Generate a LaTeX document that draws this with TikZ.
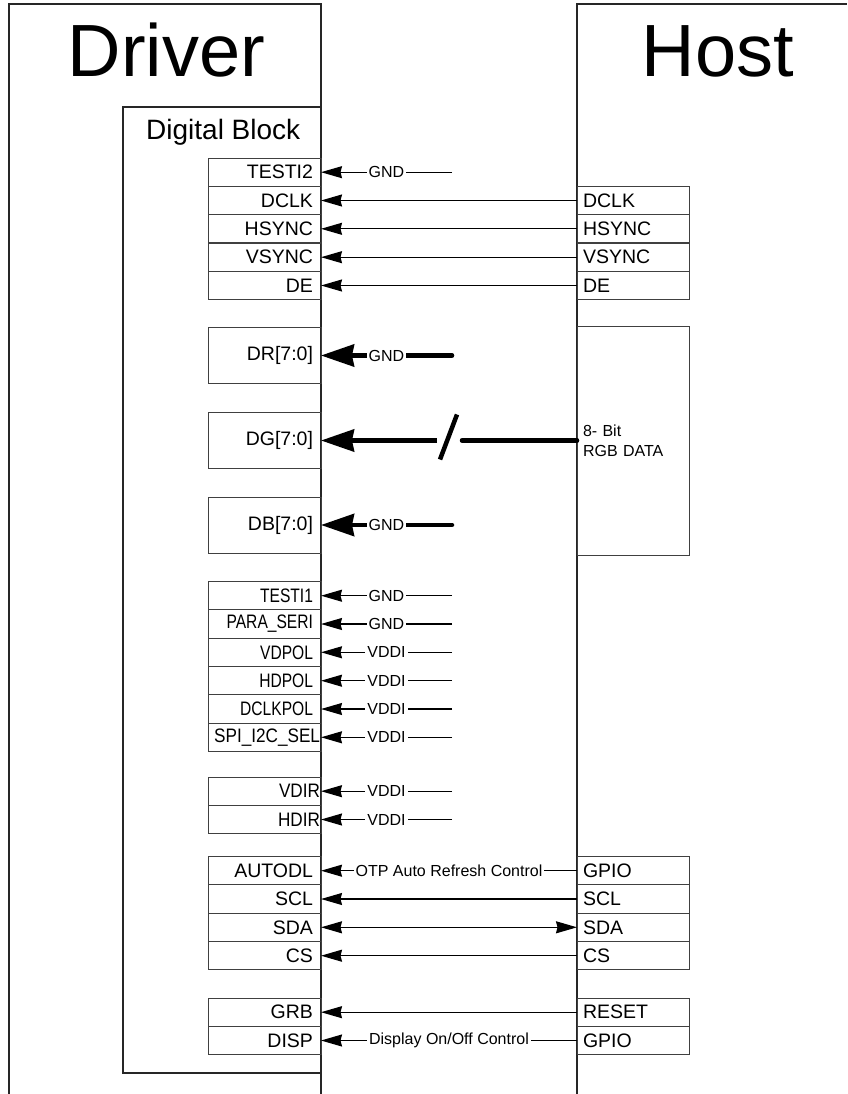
\documentclass[tikz,border=0pt]{standalone}
\usepackage{fontspec}
\setmainfont{Liberation Sans}
\usepackage{graphicx}
\usetikzlibrary{arrows.meta}
\newcommand\narrowtxt[2][0.8]{\scalebox{#1}[1]{#2}}
\begin{document}
\begin{tikzpicture}[x=1pt,y=-1pt,
  frame/.style={line width=1.1pt, draw=black!85},
  pinbox/.style={draw=black!75, line width=1pt, minimum height=28.33pt, inner ysep=0pt, outer sep=0pt, font=\fontsize{19.5}{22}\selectfont},
  drv/.style={pinbox, anchor=east, text width=97pt, inner xsep=8pt, align=right},
  drvtall/.style={drv, minimum height=56pt},
  hst/.style={pinbox, anchor=west, text width=100pt, inner xsep=6pt, align=left},
  sig/.style={line width=1.3pt, draw=black, -{Stealth[length=21pt,width=12pt,inset=1.5pt]}},
  sigboth/.style={line width=1.3pt, draw=black, {Stealth[length=21pt,width=12pt,inset=1.5pt]}-{Stealth[length=21pt,width=12pt,inset=1.5pt]}},
  busline/.style={line width=4.5pt, line cap=round},
  bus/.style={busline, -{Stealth[length=33pt,width=22pt,inset=2pt]}},
  lab/.style={fill=white, inner xsep=2pt, inner ysep=0pt, font=\fontsize{16}{19}\selectfont},
]
\useasboundingbox (0,0) rectangle (847,1094);

% frames
\draw[frame] (9,1094) -- (9,4) -- (321,4) -- (321,1094);
\draw[frame] (577,1094) -- (577,4) -- (847,4);
\draw[frame] (321,107) -- (123,107) -- (123,1073) -- (321,1073);

\node[anchor=base, inner sep=0, font=\fontsize{74}{80}\selectfont] (drvtitle) at (166.5,77) {Driver};
\node[anchor=base, inner sep=0, font=\fontsize{74}{80}\selectfont] (hosttitle) at (718,77) {Host};
\node[anchor=base west, inner sep=0, font=\fontsize{28}{32}\selectfont] (dblock) at (146,140) {Digital Block};

% upper group
\node[drv] (testi2) at (321,172.2) {TESTI2};
\node[drv] (dclk) at (321,200.5) {DCLK};
\node[drv] (hsync) at (321,228.8) {HSYNC};
\node[drv] (vsync) at (321,257.2) {VSYNC};
\node[drv] (de) at (321,285.5) {DE};
\node[hst] (hdclk) at (577,200.5) {DCLK};
\node[hst] (hhsync) at (577,228.8) {HSYNC};
\node[hst] (hvsync) at (577,257.2) {VSYNC};
\node[hst] (hde) at (577,285.5) {DE};

\coordinate (g1) at (452,172.2);
\draw[sig] (g1) -- node[lab]{GND} (testi2.east);
\draw[sig] (hdclk.west) -- (dclk.east);
\draw[sig] (hhsync.west) -- (hsync.east);
\draw[sig] (hvsync.west) -- (vsync.east);
\draw[sig] (hde.west) -- (de.east);

% RGB
\node[drvtall] (dr) at (321,355.5) {DR[7:0]};
\node[drvtall] (dg) at (321,440.5) {DG[7:0]};
\node[drvtall] (db) at (321,525) {DB[7:0]};
\node[draw=black!75, line width=1pt, outer sep=0pt, minimum width=112pt, minimum height=229pt, anchor=north west,
      text width=100pt, inner xsep=6pt, align=left, font=\fontsize{16}{20}\selectfont] (rgb) at (577,326) {8- Bit\\RGB DATA};

\coordinate (gr) at (452,355.5);
\coordinate (gb) at (452,525);
\draw[bus] (gr) -- node[lab]{GND} (dr.east);
\draw[bus] (gb) -- node[lab]{GND} (db.east);
\coordinate (s1) at (462,440.5);
\coordinate (s2) at (437,440.5);
\coordinate (sl1) at (440,459.5);
\coordinate (sl2) at (457,414.5);
\draw[busline] (rgb.west) -- (s1);
\draw[bus, line cap=butt] (s2) -- (dg.east);
\draw[line width=4.5pt] (sl1) -- (sl2);

% lower group
\node[drv] (testi1) at (321,595.7) {\narrowtxt{TESTI1}};
\node[drv] (para) at (321,624) {\narrowtxt{PARA\_SERI}};
\node[drv] (vdpol) at (321,652.3) {\narrowtxt{VDPOL}};
\node[drv] (hdpol) at (321,680.7) {\narrowtxt{HDPOL}};
\node[drv] (dclkpol) at (321,709) {\narrowtxt{DCLKPOL}};
\node[drv, inner xsep=1pt, text width=111pt] (spi) at (321,737.3) {\narrowtxt[0.88]{SPI\_I2C\_SEL}};
\node[drv, inner xsep=1pt, text width=111pt] (vdir) at (321,791.2) {\narrowtxt[0.88]{VDIR}};
\node[drv, inner xsep=1pt, text width=111pt] (hdir) at (321,819.5) {\narrowtxt[0.88]{HDIR}};

\coordinate (c1) at (452,595.7);
\coordinate (c2) at (452,624);
\coordinate (c3) at (452,652.3);
\coordinate (c4) at (452,680.7);
\coordinate (c5) at (452,709);
\coordinate (c6) at (452,737.3);
\coordinate (c7) at (452,791.2);
\coordinate (c8) at (452,819.5);
\draw[sig] (c1) -- node[lab]{GND} (testi1.east);
\draw[sig] (c2) -- node[lab]{GND} (para.east);
\draw[sig] (c3) -- node[lab]{VDDI} (vdpol.east);
\draw[sig] (c4) -- node[lab]{VDDI} (hdpol.east);
\draw[sig] (c5) -- node[lab]{VDDI} (dclkpol.east);
\draw[sig] (c6) -- node[lab]{VDDI} (spi.east);
\draw[sig] (c7) -- node[lab]{VDDI} (vdir.east);
\draw[sig] (c8) -- node[lab]{VDDI} (hdir.east);

% serial group
\node[drv] (autodl) at (321,870.7) {AUTODL};
\node[drv] (scl) at (321,899) {SCL};
\node[drv] (sda) at (321,927.3) {SDA};
\node[drv] (cs) at (321,955.7) {CS};
\node[hst] (gpio1) at (577,870.7) {GPIO};
\node[hst] (hscl) at (577,899) {SCL};
\node[hst] (hsda) at (577,927.3) {SDA};
\node[hst] (hcs) at (577,955.7) {CS};
\draw[sig] (gpio1.west) -- node[lab]{OTP Auto Refresh Control} (autodl.east);
\draw[sig] (hscl.west) -- (scl.east);
\draw[sigboth] (hsda.west) -- (sda.east);
\draw[sig] (hcs.west) -- (cs.east);

% reset group
\node[drv] (grb) at (321,1012.2) {GRB};
\node[drv] (disp) at (321,1040.5) {DISP};
\node[hst] (reset) at (577,1012.2) {RESET};
\node[hst] (gpio2) at (577,1040.5) {GPIO};
\draw[sig] (reset.west) -- (grb.east);
\draw[sig] (gpio2.west) -- node[lab]{Display On/Off Control} (disp.east);
\end{tikzpicture}
\end{document}
